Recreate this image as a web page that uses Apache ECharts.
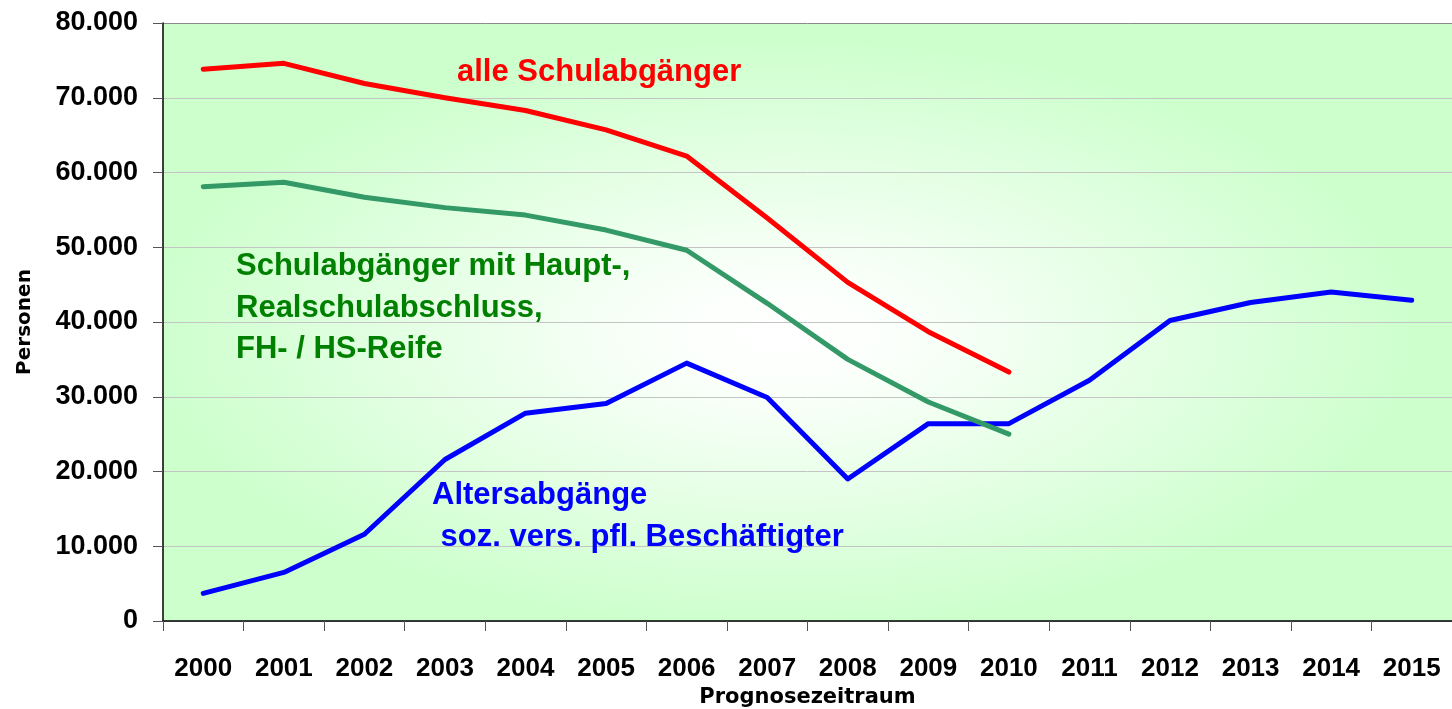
<!DOCTYPE html>
<html>
<head>
<meta charset="utf-8">
<script src="https://cdn.jsdelivr.net/npm/echarts@6/dist/echarts.min.js"></script>
<style>
html,body{margin:0;padding:0;background:#fff;}
#chart{width:1452px;height:709px;}
</style>
</head>
<body>
<div id="chart"></div>
<script>
const years = ['2000','2001','2002','2003','2004','2005','2006','2007','2008','2009','2010','2011','2012','2013','2014','2015'];
const alleSchulabgaenger = [73800, 74600, 71900, 70000, 68300, 65700, 62200, 53900, 45300, 38700, 33300, null, null, null, null, null];
const schulabgaengerMitAbschluss = [58100, 58700, 56700, 55300, 54300, 52300, 49600, 42500, 35000, 29300, 25000, null, null, null, null, null];
const altersabgaenge = [3700, 6500, 11600, 21600, 27800, 29100, 34500, 29900, 19000, 26400, 26400, 32200, 40200, 42600, 44000, 42900];
const yTicks = [0, 10000, 20000, 30000, 40000, 50000, 60000, 70000, 80000];
const labelRed = 'alle Schulabgänger';
const labelGreen = 'Schulabgänger mit Haupt-,\nRealschulabschluss,\nFH- / HS-Reife';
const labelBlue = 'Altersabgänge\n soz. vers. pfl. Beschäftigter';

function fmt(v){ return String(v).replace(/\B(?=(\d{3})+(?!\d))/g, '.'); }

const chart = echarts.init(document.getElementById('chart'), null, {renderer:'canvas'});
const gridL = 163, gridT = 23, gridW = 1289, gridH = 598;
const annFont = '"Liberation Sans", Arial, sans-serif';
const splitColors = yTicks.map((t, i) => i === yTicks.length - 1 ? '#8a8a8a' : '#c4c4c4');

chart.setOption({
  animation: false,
  grid: {left: gridL, top: gridT, width: gridW, height: gridH, containLabel: false, outerBoundsMode: 'none'},
  graphic: [
    {
      type: 'rect', x: gridL, y: gridT, scaleX: gridW / gridH, z: -10, silent: true,
      shape: {x: 0, y: 0, width: gridH, height: gridH},
      style: {fill: new echarts.graphic.RadialGradient(0.48, 0.52, 0.5, [
        {offset: 0, color: '#ffffff'},
        {offset: 0.18, color: '#fbfffb'},
        {offset: 1, color: '#ccffcc'}
      ])}
    },
    {
      type: 'text', x: 457, y: 72, z: 50, silent: true,
      style: {text: labelRed, fill: '#ff0000', fontSize: 31, fontWeight: 'bold', fontFamily: annFont, verticalAlign: 'middle'}
    },
    {
      type: 'text', x: 236, y: 246, z: 50, silent: true,
      style: {text: labelGreen, fill: '#008000', fontSize: 31, fontWeight: 'bold', fontFamily: annFont, verticalAlign: 'top', lineHeight: 41.5}
    },
    {
      type: 'text', x: 432, y: 474, z: 50, silent: true,
      style: {text: labelBlue, fill: '#0000ff', fontSize: 31, fontWeight: 'bold', fontFamily: annFont, verticalAlign: 'top', lineHeight: 42}
    }
  ],
  xAxis: {
    type: 'category',
    data: years,
    boundaryGap: true,
    name: 'Prognosezeitraum',
    nameLocation: 'middle',
    nameGap: 63,
    nameTextStyle: {fontFamily: '"DejaVu Sans", sans-serif', fontWeight: 'bold', fontSize: 21, color: '#000'},
    axisLine: {show: true, lineStyle: {color: '#000', width: 1.5}},
    axisTick: {show: true, length: 10, lineStyle: {color: '#555', width: 1}},
    axisLabel: {margin: 35, fontFamily: '"Liberation Sans", Arial, sans-serif', fontWeight: 'bold', fontSize: 26, color: '#000'},
    splitLine: {show: false}
  },
  yAxis: {
    type: 'value',
    min: 0, max: 80000, interval: 10000,
    name: 'Personen',
    nameLocation: 'middle',
    nameRotate: 90,
    nameGap: 128,
    nameTextStyle: {fontFamily: '"DejaVu Sans", sans-serif', fontWeight: 'bold', fontSize: 20, color: '#000'},
    axisLine: {show: true, lineStyle: {color: '#000', width: 1.5}},
    axisTick: {show: true, length: 10, lineStyle: {color: '#555', width: 1}},
    axisLabel: {margin: 25, formatter: fmt, fontFamily: '"Liberation Sans", Arial, sans-serif', fontWeight: 'bold', fontSize: 27, color: '#000'},
    splitLine: {show: true, lineStyle: {color: splitColors, width: 1}}
  },
  series: [
    {name: 'alle Schulabgänger', type: 'line', data: alleSchulabgaenger, showSymbol: false, symbol: 'none', lineStyle: {color: '#ff0000', width: 5, cap: 'round', join: 'round'}, z: 3},
    {name: 'Schulabgänger mit Haupt-, Realschulabschluss, FH- / HS-Reife', type: 'line', data: schulabgaengerMitAbschluss, showSymbol: false, symbol: 'none', lineStyle: {color: '#339966', width: 5, cap: 'round', join: 'round'}, z: 4},
    {name: 'Altersabgänge soz. vers. pfl. Beschäftigter', type: 'line', data: altersabgaenge, showSymbol: false, symbol: 'none', lineStyle: {color: '#0000ff', width: 5, cap: 'round', join: 'round'}, z: 3}
  ]
});
</script>
</body>
</html>
